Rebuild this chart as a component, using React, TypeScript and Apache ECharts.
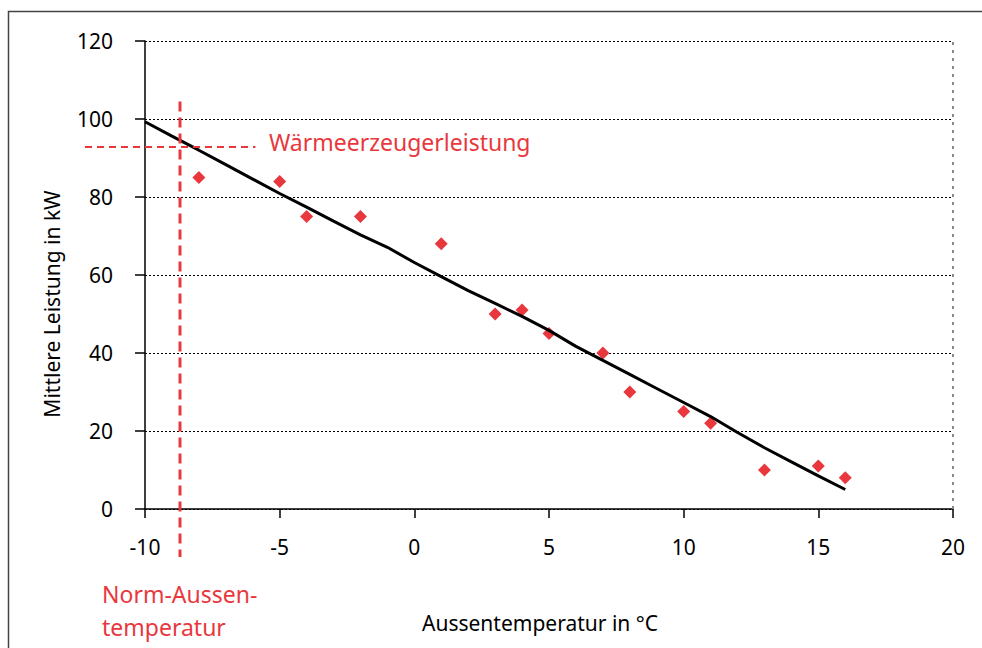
import React, { useEffect, useRef } from "react";
import * as echarts from "echarts";

// Measured points (Aussentemperatur °C, mittlere Leistung kW)
const measTemps = [-8, -5, -4, -2, 1, 3, 4, 5, 7, 8, 10, 11, 13, 15, 16];
const measPower = [85, 84, 75, 75, 68, 50, 51, 45, 40, 30, 25, 22, 10, 11, 8];

// Trend line (polyline vertices)
const lineTemps = [-10, -9, -8, -7, -6, -5, -4, -3, -2, -1, 0, 1, 2, 3, 4, 5, 6, 7, 8, 9, 10, 11, 12, 13, 14, 15, 16];
const linePower = [99.3, 95.6, 92.0, 88.3, 84.6, 80.9, 77.4, 73.8, 70.3, 67.1, 63.2, 59.6, 56.0, 52.7, 49.4, 45.8, 41.7, 38.1, 34.5, 30.9, 27.3, 23.7, 19.6, 15.7, 12.1, 8.5, 5.0];

// Axis ticks
const xTicks = [-10, -5, 0, 5, 10, 15, 20];
const yTicks = [0, 20, 40, 60, 80, 100, 120];

// Annotations
const normTemp = -8.7;
const heaterPower = 92.8;

const RED = "#E8383D";
const FONT = "Noto Sans";

export default function App() {
  const ref = useRef<HTMLDivElement>(null);

  useEffect(() => {
    document.body.style.margin = "0";
    if (!ref.current) return;
    const chart = echarts.init(ref.current, null, { renderer: "svg" });

    const option: any = {
      animation: false,
      textStyle: { fontFamily: FONT },
      grid: { left: 145, right: 29, top: 41, bottom: 139 },
      xAxis: {
        type: "value",
        min: xTicks[0],
        max: xTicks[xTicks.length - 1],
        interval: 5,
        axisLine: { show: true, onZero: false, lineStyle: { color: "#000", width: 1.5 } },
        axisTick: { show: true, inside: false, length: 9, lineStyle: { color: "#000", width: 1.5 } },
        axisLabel: { color: "#000", fontSize: 21, margin: 27, fontFamily: FONT },
        splitLine: { show: false },
      },
      yAxis: {
        type: "value",
        min: yTicks[0],
        max: yTicks[yTicks.length - 1],
        interval: 20,
        axisLine: { show: true, onZero: false, lineStyle: { color: "#000", width: 1.5 } },
        axisTick: { show: true, inside: false, length: 10, lineStyle: { color: "#000", width: 1.5 } },
        axisLabel: { color: "#000", fontSize: 21, margin: 32, fontFamily: FONT },
        splitLine: { show: true, lineStyle: { color: "#000", type: [2, 2], width: 1 } },
      },
      series: [
        {
          type: "scatter",
          data: measTemps.map((t, i) => [t, measPower[i]]),
          symbol: "diamond",
          symbolSize: 13,
          itemStyle: { color: RED, opacity: 1 },
          z: 3,
          markLine: {
            silent: true,
            symbol: "none",
            label: { show: false },
            lineStyle: { color: "#888", type: [3, 5], width: 2 },
            data: [{ xAxis: xTicks[xTicks.length - 1] }],
          },
        },
        {
          type: "line",
          data: lineTemps.map((t, i) => [t, linePower[i]]),
          showSymbol: false,
          symbol: "none",
          smooth: false,
          lineStyle: { color: "#000", width: 3 },
          z: 4,
        },
      ],
    };
    chart.setOption(option);

    const px = (x: number, y: number) => chart.convertToPixel({ gridIndex: 0 }, [x, y]) as number[];
    const vTop = px(normTemp, 104.5);
    const vBot = px(normTemp, 0);
    const hLeft = px(xTicks[0], heaterPower);
    const hRight = px(-5.9, heaterPower);
    const txtPos = px(-5.4, heaterPower);

    chart.setOption({
      graphic: [
        {
          type: "rect",
          shape: { x: 8.5, y: 11.5, width: 1000, height: 700 },
          style: { fill: "none", stroke: "#444", lineWidth: 1.5 },
          silent: true,
        },
        {
          type: "line",
          shape: { x1: vTop[0], y1: vTop[1], x2: vBot[0], y2: vBot[1] + 48 },
          style: { stroke: RED, lineWidth: 3, lineDash: [10, 6] },
          z: 10,
        },
        {
          type: "line",
          shape: { x1: hLeft[0] - 60, y1: hLeft[1], x2: hRight[0], y2: hRight[1] },
          style: { stroke: RED, lineWidth: 2, lineDash: [7, 5] },
          z: 10,
        },
        {
          type: "text",
          x: txtPos[0],
          y: txtPos[1] - 5,
          style: {
            text: "Wärmeerzeugerleistung",
            fill: RED,
            fontSize: 23,
            fontFamily: FONT,
            textAlign: "left",
            textVerticalAlign: "middle",
          },
          z: 10,
        },
        {
          type: "text",
          x: 102,
          y: 594,
          style: {
            text: "Norm-Aussen-",
            fill: RED,
            fontSize: 23,
            fontFamily: FONT,
            textAlign: "left",
            textVerticalAlign: "middle",
          },
        },
        {
          type: "text",
          x: 102,
          y: 627,
          style: {
            text: "temperatur",
            fill: RED,
            fontSize: 23,
            fontFamily: FONT,
            textAlign: "left",
            textVerticalAlign: "middle",
          },
        },
        {
          type: "text",
          x: 540,
          y: 623,
          style: {
            text: "Aussentemperatur in °C",
            fill: "#000",
            fontSize: 21,
            fontFamily: FONT,
            textAlign: "center",
            textVerticalAlign: "middle",
          },
        },
        {
          type: "text",
          x: 52,
          y: 304,
          rotation: Math.PI / 2,
          style: {
            text: "Mittlere Leistung in kW",
            fill: "#000",
            fontSize: 21,
            fontFamily: FONT,
            textAlign: "center",
            textVerticalAlign: "middle",
          },
        },
      ],
    });

    return () => chart.dispose();
  }, []);

  return <div ref={ref} style={{ width: 982, height: 648 }} />;
}
